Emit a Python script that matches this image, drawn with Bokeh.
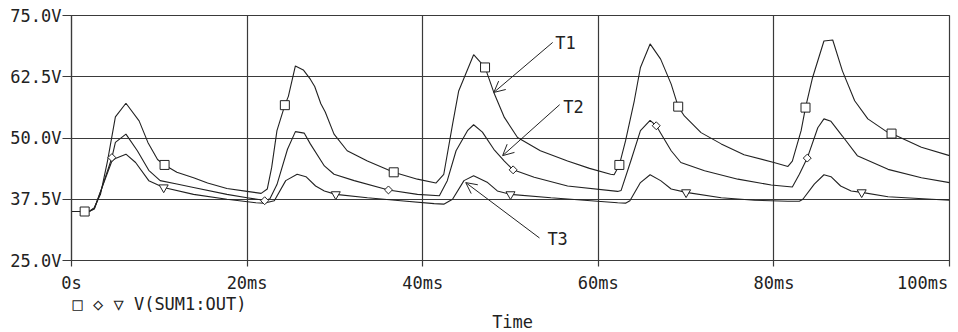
import math
from bokeh.plotting import figure
from bokeh.models import Range1d, FixedTicker, PrintfTickFormatter, Label, Arrow, OpenHead, Title
from bokeh.embed import file_html
from bokeh.resources import INLINE

# ---- data (time in ms, voltage in V) ----
t1_ms = [0, 2.0, 2.6, 3.3, 4.1, 5.0, 6.2, 7.7, 8.7, 9.8, 10.6, 12.0, 13.9, 15.5, 17.7, 20.0, 21.6,
         22.3, 22.8, 23.4, 24.3, 24.7, 25.5, 26.4, 27.2, 27.7, 28.4, 28.9, 29.9, 31.4, 33.7, 36.7,
         39.4, 41.5, 42.4, 43.4, 44.1, 45.8, 47.1, 48.1, 49.3, 50.8, 53.4, 56.5, 59.0, 61.4, 61.8,
         62.4, 63.1, 64.1, 64.8, 65.9, 67.1, 68.3, 69.1, 69.8, 71.7, 74.0, 76.6, 80.0, 81.6, 82.1,
         83.1, 83.6, 84.4, 85.7, 86.7, 87.8, 89.2, 90.7, 93.0, 93.4, 96.8, 100]
t1_v = [35.0, 35.0, 35.8, 38.5, 45.3, 54.3, 57.1, 53.5, 49.1, 45.6, 44.5, 43.0, 41.9, 40.8, 39.7, 39.1, 38.7,
        39.6, 44.0, 51.5, 56.7, 58.5, 64.7, 63.9, 62.0, 60.5, 57.0, 55.3, 50.8, 47.4, 45.3, 43.0,
        41.6, 40.8, 42.6, 52.8, 59.6, 67.0, 64.4, 59.3, 54.2, 50.1, 47.4, 45.3, 43.8, 42.6, 42.5,
        44.5, 49.4, 57.6, 64.4, 69.2, 66.1, 61.0, 56.4, 54.5, 51.1, 48.8, 46.6, 45.0, 44.2, 45.3,
        51.5, 56.2, 62.3, 69.8, 70.0, 63.7, 57.6, 53.9, 51.1, 50.9, 48.1, 46.4]

t2_ms = [0, 2.0, 2.6, 3.4, 4.6, 5.0, 6.2, 7.5, 8.8, 10.1, 12.0, 13.9, 17.7, 20.0, 21.5, 22.0, 22.6,
         23.4, 24.6, 25.5, 26.5, 27.2, 28.8, 29.9, 32.2, 36.1, 39.4, 41.9, 42.8, 43.8, 45.1, 45.8,
         46.8, 48.1, 49.3, 50.3, 52.7, 56.5, 62.2, 62.6, 63.7, 64.8, 65.9, 66.6, 68.3, 69.4, 72.1,
         75.9, 79.7, 82.1, 82.9, 83.8, 85.0, 85.7, 86.5, 87.8, 89.5, 93.0, 96.8, 100]
t2_v = [35.0, 35.0, 35.6, 39.5, 46.0, 49.1, 50.8, 47.4, 43.4, 41.3, 40.6, 39.9, 38.5, 37.8, 37.4, 37.2, 37.6,
        40.5, 47.7, 51.3, 51.0, 48.8, 44.3, 42.6, 41.3, 39.4, 38.5, 38.2, 41.3, 47.4, 51.5, 52.7,
        51.2, 47.7, 45.3, 43.5, 42.0, 40.2, 39.1, 39.3, 45.3, 51.5, 53.6, 52.5, 47.4, 45.0, 43.3,
        41.6, 40.4, 40.0, 42.6, 45.9, 52.1, 53.9, 53.4, 50.4, 46.4, 43.6, 41.9, 40.9]

t3_ms = [0, 2.0, 2.6, 3.5, 4.6, 5.0, 6.2, 7.3, 8.8, 10.5, 13.9, 17.7, 21.0, 21.9, 23.1, 24.4, 25.7,
         26.7, 27.8, 28.8, 30.1, 33.7, 37.5, 41.3, 42.4, 43.4, 44.7, 45.8, 47.4, 48.5, 50.0, 54.6,
         62.2, 63.1, 63.6, 64.8, 65.9, 67.1, 68.3, 70.0, 74.0, 77.8, 81.6, 82.9, 83.3, 84.6, 85.7,
         86.5, 87.6, 88.8, 90.0, 93.0, 100]
t3_v = [35.0, 35.0, 35.5, 40.0, 45.3, 45.8, 46.7, 45.0, 41.3, 39.9, 38.5, 37.5, 36.8, 36.7, 37.2, 41.3, 42.6,
        42.1, 40.2, 39.2, 38.5, 37.8, 37.2, 36.6, 36.5, 37.5, 41.3, 42.3, 40.9, 39.2, 38.5, 37.8,
        36.8, 36.7, 37.2, 40.9, 42.5, 41.3, 39.6, 38.9, 37.8, 37.3, 37.1, 37.1, 37.5, 40.6, 42.5,
        42.1, 40.2, 39.2, 38.9, 38.0, 37.3]

sq_ms = [1.5, 10.6, 24.3, 36.7, 47.1, 62.4, 69.1, 83.6, 93.4]
sq_v = [35.0, 44.5, 56.7, 43.0, 64.4, 44.5, 56.4, 56.2, 50.9]
di_ms = [4.6, 22.0, 36.1, 50.3, 66.6, 83.8]
di_v = [46.0, 37.2, 39.4, 43.5, 52.5, 45.9]
tr_ms = [10.5, 30.1, 50.0, 70.0, 90.0]
tr_v = [39.9, 38.5, 38.5, 38.9, 38.9]

x_ticks = [0, 20, 40, 60, 80, 100]
x_tick_labels = ["0s", "20ms", "40ms", "60ms", "80ms", "100ms"]
y_ticks = [25, 37.5, 50, 62.5, 75]
legend_text = "\u25a1 \u25c7 \u25bd V(SUM1:OUT)"
x_title = "Time"

FONT = "DejaVu Sans Mono"
FS = "17px"
INK = "#222222"
GRID = "#3a3a3a"

p = figure(width=958, height=332, x_range=Range1d(0, 100), y_range=Range1d(25, 75),
           output_backend="svg", toolbar_location=None,
           min_border_left=71, min_border_right=9, min_border_top=15, min_border_bottom=72)
p.background_fill_color = "white"
p.border_fill_color = "white"
p.outline_line_color = GRID
p.outline_line_width = 1.2

p.xaxis.ticker = FixedTicker(ticks=x_ticks)
p.yaxis.ticker = FixedTicker(ticks=y_ticks)
overrides = {}
for tk, lb in zip(x_ticks, x_tick_labels):
    overrides[tk] = lb + "\u00a0" if tk == 100 else lb
p.xaxis.major_label_overrides = overrides
p.yaxis.formatter = PrintfTickFormatter(format="%.1fV")

for ax in (p.xaxis[0], p.yaxis[0]):
    ax.axis_line_color = GRID
    ax.axis_line_width = 1.2
    ax.major_tick_line_color = GRID
    ax.major_tick_line_width = 1.2
    ax.major_tick_in = 0
    ax.minor_tick_line_color = None
    ax.major_label_text_font = FONT
    ax.major_label_text_font_size = FS
    ax.major_label_text_color = INK
p.xaxis.major_tick_out = 6
p.xaxis.major_label_standoff = 6
p.yaxis.major_tick_out = 9
p.yaxis.major_label_standoff = 1

p.xgrid.grid_line_color = GRID
p.ygrid.grid_line_color = GRID
p.xgrid.grid_line_width = 1.2
p.ygrid.grid_line_width = 1.2

for xs, ys in ((t1_ms, t1_v), (t2_ms, t2_v), (t3_ms, t3_v)):
    p.line(xs, ys, line_color=INK, line_width=1.1)

p.scatter(sq_ms, sq_v, marker="square", size=9, line_color=INK, fill_color="white", line_width=1)
p.scatter(di_ms, di_v, marker="square", angle=math.pi / 4, size=5.6, line_color=INK,
          fill_color="white", line_width=1)
p.scatter(tr_ms, tr_v, marker="inverted_triangle", size=9, line_color=INK, fill_color="white", line_width=1)

# annotations: T1/T2/T3 with arrows
arrows = [((54.8, 69.5), (48.1, 59.3)), ((55.6, 56.8), (49.1, 46.4)), ((53.3, 29.6), (44.9, 40.9))]
for (x0, y0), (x1, y1) in arrows:
    p.add_layout(Arrow(x_start=x0, y_start=y0, x_end=x1, y_end=y1, line_color=INK, line_width=1,
                       end=OpenHead(size=11, line_color=INK, line_width=1)))
for txt, x, y in (("T1", 55.1, 69.3), ("T2", 56.0, 56.4), ("T3", 54.2, 29.4)):
    p.add_layout(Label(x=x, y=y, text=txt, text_font=FONT, text_font_size=FS, text_color=INK,
                       text_align="left", text_baseline="middle"))

# legend line and the "Time" caption share one two-line caption below the axis
caption = legend_text + "\n" + "\u00a0" * 41 + x_title
bottom_title = Title(text=caption, align="left", offset=1, vertical_align="top",
                     text_font=FONT, text_font_size=FS, text_font_style="normal", text_color=INK,
                     text_line_height=0.92)
try:
    bottom_title.standoff = -3
except Exception:
    bottom_title.standoff = 0
p.add_layout(bottom_title, "below")

open("out.html", "w").write(file_html(p, INLINE))
